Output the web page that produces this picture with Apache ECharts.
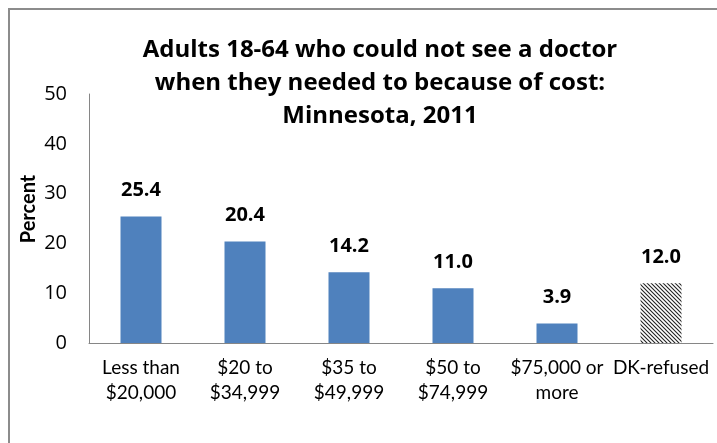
<!DOCTYPE html>
<html><head><meta charset="utf-8">
<script src="https://cdn.jsdelivr.net/npm/echarts@6/dist/echarts.min.js"></script>
<style>html,body{margin:0;padding:0;background:#fff}#c{width:717px;height:443px}</style>
</head><body><div id="c"></div>
<script>
const categories = ['Less than\n$20,000', '$20 to\n$34,999', '$35 to\n$49,999', '$50 to\n$74,999', '$75,000 or\nmore', 'DK-refused'];
const values = [25.4, 20.4, 14.2, 11.0, 3.9, 12.0];
const hatchedIndex = 5;
const yTicks = [0, 10, 20, 30, 40, 50];
const titleText = 'Adults 18-64 who could not see a doctor\nwhen they needed to because of cost:\nMinnesota, 2011';
const FONT = 'Lato, "Open Sans", sans-serif';
const TFONT = '"Open Sans", Lato, sans-serif';

const pc = document.createElement('canvas');
pc.width = 4; pc.height = 4;
const ctx = pc.getContext('2d');
ctx.fillStyle = '#fff'; ctx.fillRect(0,0,4,4);
ctx.strokeStyle = '#222'; ctx.lineWidth = 1.1;
ctx.beginPath();
ctx.moveTo(-1,-1); ctx.lineTo(5,5);
ctx.moveTo(-1,3); ctx.lineTo(1,5);
ctx.moveTo(3,-1); ctx.lineTo(5,1);
ctx.stroke();

const chart = echarts.init(document.getElementById('c'), null, {renderer:'canvas'});
chart.setOption({
  animation: false,
  backgroundColor: '#fff',
  title: {
    text: titleText, left: 375, top: 29, textAlign: 'center',
    textStyle: {fontFamily: TFONT, fontSize: 24, fontWeight: 'bold', color: '#000', lineHeight: 33}
  },
  graphic: [
    {type:'rect', shape:{x:9, y:9, width:760, height:480}, style:{fill:'none', stroke:'#8c8c8c', lineWidth:2}, silent:true},
    {type:'text', x:29, y:209, rotation: Math.PI/2, style:{text:'Percent', fontFamily: FONT, fontSize: 20, fontWeight:'bold', fill:'#000', align:'center', verticalAlign:'middle'}, silent:true}
  ],
  grid: {left: 89, right: 4, top: 94, bottom: 100},
  xAxis: {
    type: 'category', data: categories,
    axisLine: {lineStyle: {color: '#868686', width: 1}},
    axisTick: {show: false},
    axisLabel: {fontFamily: FONT, fontSize: 19, color: '#000', lineHeight: 25, margin: 12, interval: 0}
  },
  yAxis: {
    type: 'value', min: yTicks[0], max: yTicks[yTicks.length-1], interval: 10,
    axisLine: {show: true, lineStyle: {color: '#868686', width: 1}},
    axisTick: {show: false},
    splitLine: {show: false},
    axisLabel: {fontFamily: TFONT, fontSize: 20, color: '#000', margin: 22}
  },
  series: [{
    type: 'bar', barWidth: 41,
    data: values.map((v, i) => i === hatchedIndex
      ? {value: v, itemStyle: {color: {image: pc, repeat: 'repeat'}}}
      : {value: v}),
    itemStyle: {color: '#4F81BD'},
    label: {show: true, position: 'top', distance: 16, formatter: p => p.value.toFixed(1),
      fontFamily: TFONT, fontSize: 20, fontWeight: 'bold', color: '#000'}
  }]
});
</script></body></html>
